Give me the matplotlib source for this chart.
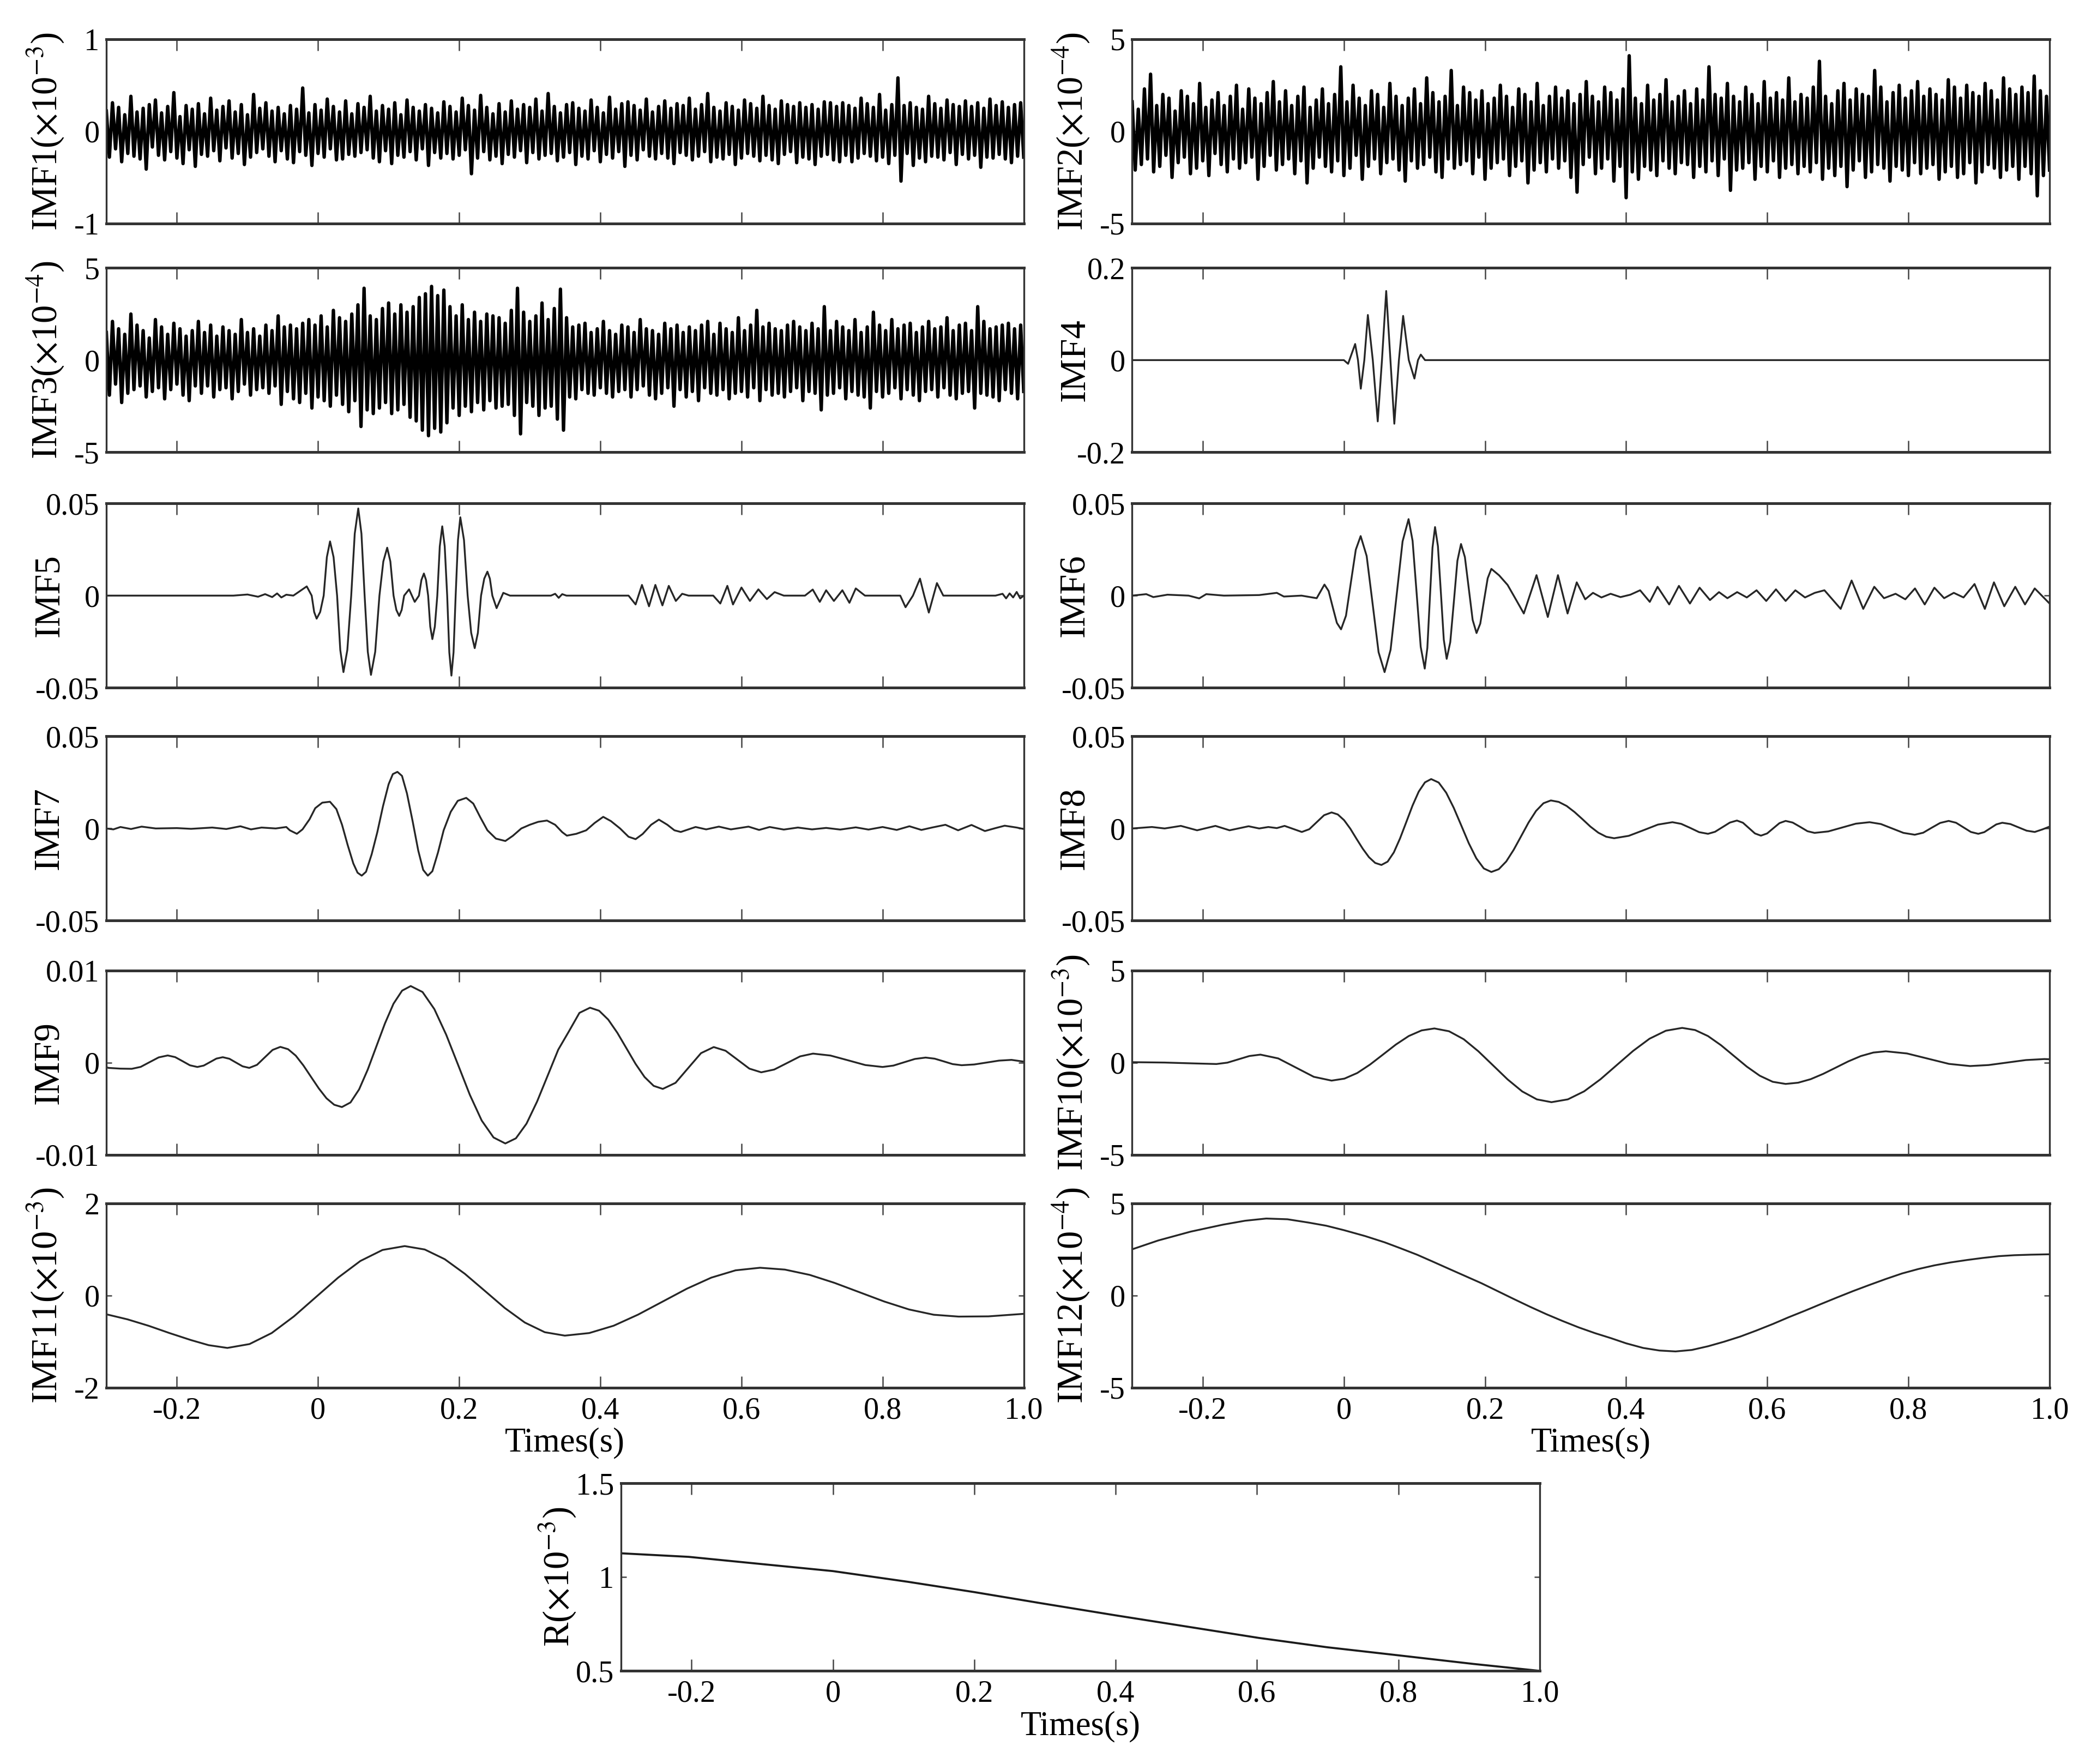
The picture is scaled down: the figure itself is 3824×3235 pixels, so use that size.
import numpy as np
import matplotlib
matplotlib.use('Agg')
import matplotlib.pyplot as plt

plt.rcParams['font.family'] = ['Liberation Serif', 'DejaVu Serif']
plt.rcParams['mathtext.fontset'] = 'stix'

# ---- data ----
xticks = [-0.2, 0, 0.2, 0.4, 0.6, 0.8, 1.0]
xtick_labels = ['-0.2', '0', '0.2', '0.4', '0.6', '0.8', '1.0']

# noisy modes, evenly sampled over -0.3..1.0 (units as in the y labels)
imf1 = [0.22,-0.28,0.31,-0.19,0.26,-0.33,0.18,-0.24,0.38,-0.27,
        0.21,-0.30,0.25,-0.41,0.29,-0.17,0.34,-0.26,0.20,-0.31,
        0.27,-0.22,0.42,-0.29,0.16,-0.35,0.28,-0.20,0.24,-0.38,
        0.30,-0.25,0.19,-0.27,0.36,-0.21,0.23,-0.32,0.27,-0.18,
        0.33,-0.29,0.21,-0.24,0.29,-0.36,0.18,-0.28,0.40,-0.23,
        0.25,-0.19,0.31,-0.27,0.22,-0.33,0.26,-0.21,0.19,-0.30,
        0.28,-0.34,0.24,-0.22,0.47,-0.26,0.20,-0.37,0.29,-0.24,
        0.23,-0.28,0.35,-0.19,0.27,-0.31,0.21,-0.30,0.33,-0.25,
        0.19,-0.27,0.30,-0.23,0.26,-0.20,0.38,-0.29,0.22,-0.33,
        0.28,-0.21,0.24,-0.35,0.31,-0.26,0.18,-0.28,0.34,-0.22,
        0.26,-0.31,0.22,-0.19,0.29,-0.37,0.25,-0.23,0.20,-0.29,
        0.32,-0.24,0.27,-0.30,0.21,-0.26,0.36,-0.20,0.28,-0.46,
        0.23,-0.29,0.39,-0.22,0.26,-0.31,0.19,-0.27,0.30,-0.35,
        0.21,-0.25,0.33,-0.28,0.24,-0.21,0.29,-0.34,0.26,-0.23,
        0.35,-0.30,0.22,-0.26,0.41,-0.24,0.27,-0.32,0.20,-0.28,
        0.29,-0.23,0.31,-0.36,0.25,-0.27,0.22,-0.30,0.34,-0.21,
        0.26,-0.33,0.20,-0.25,0.37,-0.29,0.24,-0.22,0.30,-0.38,
        0.32,-0.26,0.28,-0.31,0.23,-0.20,0.35,-0.27,0.21,-0.30,
        0.27,-0.24,0.33,-0.29,0.25,-0.35,0.30,-0.23,0.28,-0.26,
        0.36,-0.31,0.24,-0.27,0.29,-0.22,0.41,-0.33,0.26,-0.28,
        0.22,-0.30,0.31,-0.25,0.27,-0.36,0.23,-0.29,0.34,-0.24,
        0.30,-0.27,0.25,-0.32,0.38,-0.26,0.28,-0.31,0.24,-0.35,
        0.33,-0.25,0.29,-0.22,0.27,-0.34,0.31,-0.28,0.26,-0.30,
        0.29,-0.36,0.24,-0.27,0.32,-0.25,0.31,-0.31,0.27,-0.33,
        0.31,-0.26,0.28,-0.33,0.25,-0.29,0.36,-0.24,0.30,-0.27,
        0.26,-0.32,0.40,-0.28,0.23,-0.35,0.29,-0.26,0.58,-0.54,
        0.28,-0.24,0.31,-0.37,0.26,-0.29,0.24,-0.33,0.38,-0.27,
        0.30,-0.28,0.25,-0.31,0.34,-0.23,0.29,-0.36,0.27,-0.25,
        0.33,-0.30,0.27,-0.26,0.31,-0.39,0.25,-0.28,0.35,-0.29,
        0.28,-0.25,0.32,-0.30,0.26,-0.34,0.29,-0.27,0.31,-0.28]

imf2 = [1.6,-2.1,1.2,-1.8,2.3,-1.5,3.1,-2.2,1.4,-1.9,
        2.0,-1.3,1.8,-2.5,1.1,-1.7,2.2,-1.4,1.9,-2.3,
        1.5,-2.0,2.6,-1.6,1.3,-2.4,1.7,-1.2,2.1,-1.8,
        1.4,-2.2,1.9,-1.5,2.5,-2.0,1.2,-1.7,2.3,-1.4,
        1.8,-2.6,1.5,-1.9,2.1,-1.3,2.7,-2.1,1.6,-1.8,
        2.2,-1.5,1.4,-2.3,1.9,-1.6,2.4,-2.8,1.3,-2.0,
        1.7,-1.4,2.3,-1.9,1.5,-2.2,2.0,-1.6,3.5,-2.4,
        1.6,-2.0,2.5,-1.3,1.8,-2.6,1.4,-1.9,2.2,-1.5,
        2.0,-2.3,1.3,-1.7,2.6,-1.5,1.9,-2.1,1.4,-2.7,
        1.8,-1.6,2.3,-2.0,1.5,-1.8,2.9,-1.4,2.1,-2.2,
        1.6,-2.5,1.9,-1.5,3.3,-2.0,1.4,-1.8,2.4,-1.6,
        2.1,-2.3,1.7,-1.4,2.2,-2.6,1.5,-2.0,1.8,-1.7,
        2.5,-1.5,1.9,-2.4,1.3,-1.9,2.3,-1.6,2.0,-2.8,
        1.6,-2.1,2.6,-1.7,1.4,-2.2,1.9,-1.5,2.4,-2.0,
        1.8,-1.6,2.2,-2.5,1.5,-3.3,2.0,-1.8,2.7,-1.4,
        1.9,-2.3,1.6,-2.0,2.4,-1.5,2.1,-2.7,1.7,-1.9,
        2.3,-3.6,4.1,-2.2,1.8,-2.6,1.5,-1.9,2.5,-2.1,
        1.7,-2.4,2.0,-1.6,2.8,-2.0,1.6,-2.3,1.9,-1.7,
        2.2,-1.8,1.5,-2.5,2.3,-1.9,1.7,-2.2,3.5,-1.6,
        2.0,-2.4,1.8,-1.5,2.6,-3.2,1.9,-2.1,1.6,-2.0,
        2.4,-1.7,2.0,-2.6,1.5,-1.9,2.7,-2.2,1.8,-1.6,
        2.1,-2.5,1.7,-2.0,2.9,-1.8,1.6,-2.3,2.0,-1.9,
        1.8,-2.2,2.4,-1.7,3.8,-2.6,1.9,-2.0,1.5,-2.4,
        2.2,-1.9,2.6,-3.0,1.7,-2.1,2.3,-1.6,2.0,-2.5,
        1.9,-2.2,3.3,-1.8,2.4,-2.0,1.6,-2.7,2.1,-1.9,
        2.5,-2.1,1.8,-2.4,2.2,-1.7,2.7,-2.3,1.9,-2.0,
        2.3,-1.8,2.0,-2.6,1.7,-2.2,2.8,-1.9,2.4,-2.5,
        1.8,-2.3,2.5,-1.7,2.1,-2.8,1.9,-2.2,2.6,-1.8,
        2.2,-2.0,1.7,-2.5,2.9,-2.1,2.3,-1.9,2.0,-2.6,
        2.4,-1.9,2.1,-2.3,3.0,-3.5,2.2,-2.4,1.9,-2.1]

imf3 = [1.5,-1.9,2.1,-1.3,1.7,-2.3,1.4,-1.8,2.5,-1.6,
        1.9,-1.4,1.6,-2.0,1.2,-1.7,2.2,-1.5,1.8,-2.1,
        1.4,-1.6,2.0,-1.3,1.7,-1.9,1.3,-2.2,1.6,-1.4,
        2.1,-1.8,1.5,-1.4,1.9,-2.0,1.3,-1.6,1.8,-1.5,
        1.6,-2.1,1.4,-1.7,2.2,-1.3,1.5,-1.9,1.7,-1.6,
        1.3,-1.5,1.9,-1.8,1.6,-1.4,2.4,-2.4,1.8,-1.7,
        1.9,-2.1,1.7,-2.3,2.0,-1.8,2.2,-2.6,1.9,-2.0,
        2.4,-2.2,1.8,-2.5,2.7,-1.9,2.3,-2.4,2.1,-2.8,
        2.5,-2.2,3.0,-3.6,3.9,-2.7,2.4,-2.9,2.2,-2.6,
        2.8,-2.3,3.1,-2.9,2.5,-2.7,3.0,-2.4,2.6,-3.1,
        2.9,-3.3,3.4,-3.8,3.6,-4.1,4.0,-3.7,3.5,-3.9,
        3.8,-3.4,2.9,-2.6,2.4,-3.0,3.0,-2.5,2.2,-2.8,
        2.6,-2.3,2.1,-2.7,2.5,-2.2,2.4,-2.6,2.3,-2.5,
        2.0,-2.4,2.7,-3.0,3.9,-4.0,2.6,-2.3,2.1,-2.5,
        2.4,-3.0,3.1,-2.6,2.2,-2.5,2.8,-3.2,3.85,-3.8,
        2.3,-2.0,1.8,-2.1,1.9,-1.6,2.0,-1.8,1.5,-1.9,
        1.7,-1.5,2.1,-1.8,1.6,-2.0,1.4,-1.7,1.9,-1.6,
        1.8,-2.0,1.5,-1.6,2.2,-1.4,1.7,-1.9,1.6,-2.1,
        1.4,-1.8,2.0,-1.5,1.7,-2.5,1.9,-1.6,1.5,-2.0,
        1.8,-1.7,1.6,-2.2,1.9,-1.5,2.1,-1.8,1.4,-1.9,
        2.0,-1.6,1.7,-2.1,1.5,-1.8,2.3,-1.7,1.6,-2.0,
        1.9,-1.5,2.7,-2.2,1.8,-1.6,2.0,-1.9,1.7,-1.8,
        1.6,-2.0,1.9,-1.7,2.1,-1.5,1.8,-2.2,1.6,-1.7,
        2.0,-1.8,1.7,-2.7,2.9,-1.9,1.6,-1.8,2.1,-1.5,
        1.8,-2.1,1.6,-1.7,2.2,-1.9,1.5,-2.0,1.8,-2.6,
        2.6,-1.7,1.9,-2.0,1.6,-1.8,2.2,-1.5,1.7,-2.1,
        1.9,-1.6,2.0,-1.9,1.5,-2.2,1.8,-1.7,2.1,-1.6,
        1.7,-2.0,1.8,-1.5,2.3,-1.9,1.6,-2.1,1.9,-1.8,
        2.0,-1.7,1.6,-2.6,2.9,-1.8,2.1,-1.9,1.7,-2.0,
        1.8,-2.2,1.9,-1.6,2.0,-1.8,1.7,-2.1,1.9,-1.7]

# smoother modes as (time, value) points
imf4 = [(-0.30,0),(0.000,0),(0.006,-0.008),(0.016,0.035),(0.020,0),(0.024,-0.062),
        (0.029,0),(0.034,0.098),(0.041,0),(0.048,-0.133),(0.054,0),(0.060,0.150),
        (0.066,0),(0.0715,-0.138),(0.078,0),(0.084,0.096),(0.092,0),(0.100,-0.040),
        (0.105,0),(0.109,0.012),(0.115,0),(1.0,0)]

imf5 = [(-0.30,0),(-0.12,0),(-0.10,0.0006),(-0.085,-0.0006),(-0.075,0.0008),(-0.065,-0.0008),
        (-0.058,0.0012),(-0.052,-0.001),(-0.045,0.0005),(-0.035,0),(-0.016,0.005),(-0.009,0),
        (-0.0055,-0.0089),(-0.002,-0.0125),(0.003,-0.0089),(0.008,0),(0.0125,0.0209),
        (0.017,0.0294),(0.022,0.0209),(0.027,0),(0.0315,-0.0295),(0.036,-0.0415),
        (0.0415,-0.0295),(0.047,0),(0.052,0.0336),(0.057,0.0473),(0.0615,0.0336),(0.066,0),
        (0.0705,-0.0305),(0.075,-0.043),(0.081,-0.0305),(0.087,0),(0.0925,0.0185),
        (0.098,0.026),(0.1025,0.0185),(0.107,0),(0.111,-0.0078),(0.115,-0.011),
        (0.1185,-0.0078),(0.122,0),(0.129,0.0034),(0.133,0),(0.137,-0.0034),(0.143,0),
        (0.1465,0.0085),(0.150,0.012),(0.153,0.0085),(0.156,0),(0.159,-0.0168),
        (0.162,-0.0236),(0.1655,-0.0168),(0.169,0),(0.1725,0.0267),(0.176,0.0376),
        (0.1795,0.0267),(0.183,0),(0.186,-0.0308),(0.189,-0.0434),(0.192,-0.0308),(0.195,0),
        (0.1983,0.0302),(0.2016,0.0425),(0.2068,0.0302),(0.212,0),(0.217,-0.0202),
        (0.222,-0.0285),(0.2265,-0.0202),(0.231,0),(0.2355,0.0092),(0.240,0.013),
        (0.2435,0.0092),(0.247,0),(0.253,-0.0068),(0.2625,0.0015),(0.272,0),(0.30,0),
        (0.33,0),(0.336,0.001),(0.341,-0.0012),(0.346,0.0008),(0.352,0),(0.38,0),(0.42,0),
        (0.440,0),(0.450,-0.0048),(0.459,0.0058),(0.469,-0.0058),(0.478,0.0058),
        (0.488,-0.0053),(0.497,0.0053),(0.507,-0.0029),(0.516,0.001),(0.525,0),(0.545,0),
        (0.560,0),(0.570,-0.0043),(0.580,0.0053),(0.588,-0.0048),(0.600,0.0044),
        (0.612,-0.0029),(0.624,0.0034),(0.636,-0.0019),(0.647,0.0019),(0.660,0),(0.680,0),
        (0.690,0),(0.701,0.0033),(0.711,-0.0034),(0.720,0.0029),(0.731,-0.0029),
        (0.743,0.0029),(0.753,-0.0039),(0.762,0.0039),(0.775,0),(0.80,0),(0.825,0),
        (0.8325,-0.0063),(0.843,0),(0.853,0.0092),(0.859,0),(0.8655,-0.0092),(0.877,0.0068),
        (0.886,0),(0.90,0),(0.93,0),(0.96,0),(0.97,0.001),(0.975,-0.0015),(0.98,0.0012),
        (0.985,-0.001),(0.99,0.002),(0.995,-0.0015),(1.0,0)]

imf6 = [(-0.30,0),(-0.28,0.0008),(-0.27,-0.0008),(-0.25,0.0005),(-0.22,0),(-0.205,-0.0015),
        (-0.195,0.0008),(-0.17,0),(-0.12,0.0003),(-0.095,0.0015),(-0.085,-0.0005),(-0.06,0),
        (-0.0385,-0.0014),(-0.0275,0.006),(-0.0216,0.0025),(-0.0158,-0.0062),
        (-0.0099,-0.0148),(-0.004,-0.0183),(0.0030,-0.0109),(0.0099,0.007),(0.0169,0.0249),
        (0.0238,0.0323),(0.0323,0.0215),(0.0408,-0.0046),(0.0492,-0.0307),(0.0577,-0.0415),
        (0.0662,-0.0294),(0.0747,0.0),(0.0832,0.0294),(0.0917,0.0415),(0.0974,0.0297),
        (0.1032,0.0009),(0.1089,-0.0278),(0.1146,-0.0396),(0.1183,-0.0284),(0.1219,-0.0012),
        (0.1256,0.026),(0.1292,0.0372),(0.1333,0.0268),(0.1375,0.0015),(0.1416,-0.0239),
        (0.1457,-0.0343),(0.1508,-0.0252),(0.1559,-0.0032),(0.1609,0.0189),(0.166,0.028),
        (0.1715,0.0209),(0.177,0.0039),(0.1825,-0.0132),(0.188,-0.0203),(0.1933,-0.0152),
        (0.1985,-0.0029),(0.2038,0.0094),(0.209,0.0145),(0.22,0.011),(0.232,0.0058),
        (0.2435,-0.0019),(0.255,-0.0097),(0.273,0.0111),
        (0.289,-0.0116),(0.3034,0.0111),(0.317,-0.0097),(0.330,0.0072),(0.342,-0.002),
        (0.353,0.0015),(0.365,-0.001),(0.378,0.001),(0.392,-0.0008),(0.406,0.0005),
        (0.4198,0.0029),(0.4335,-0.0034),(0.4445,0.0048),(0.461,-0.0048),(0.4748,0.0053),
        (0.4904,-0.0043),(0.5041,0.0043),(0.5188,-0.0024),(0.5316,0.0019),(0.5435,-0.0014),
        (0.5573,0.0019),(0.571,-0.001),(0.5848,0.0029),(0.5985,-0.0029),(0.6123,0.0034),
        (0.626,-0.0029),(0.6398,0.0029),(0.6535,-0.001),(0.6673,0.0015),(0.681,0.0029),
        (0.704,-0.0072),(0.7195,0.0082),(0.736,-0.0072),(0.7516,0.0048),(0.7654,-0.0014),
        (0.7818,0.001),(0.7956,-0.002),(0.8093,0.0039),(0.8231,-0.0048),(0.8368,0.0043),
        (0.8506,-0.0014),(0.8643,0.0015),(0.8781,-0.001),(0.8937,0.0063),(0.9083,-0.0072),
        (0.9212,0.0072),(0.9358,-0.0058),(0.9514,0.0048),(0.9652,-0.0048),(0.979,0.0039),
        (0.999,-0.0039)]

imf7 = [(-0.30,0),(-0.29,-0.0005),(-0.28,0.0008),(-0.265,-0.0003),(-0.25,0.001),(-0.23,0),
        (-0.20,0.0002),(-0.18,-0.0002),(-0.15,0.0005),(-0.13,-0.0003),(-0.11,0.0012),
        (-0.095,-0.0005),(-0.08,0.0005),(-0.06,0),(-0.045,0.0008),(-0.04,-0.001),
        (-0.030,-0.0029),(-0.022,-0.0005),(-0.012,0.005),(-0.004,0.011),(0.006,0.0140),
        (0.0169,0.0145),(0.026,0.0105),(0.034,0.002),(0.042,-0.009),(0.050,-0.019),
        (0.056,-0.0240),(0.0619,-0.0256),(0.068,-0.0235),(0.076,-0.014),(0.084,-0.002),
        (0.092,0.012),(0.100,0.024),(0.106,0.0295),(0.1125,0.0307),(0.119,0.0285),
        (0.126,0.019),(0.134,0.004),(0.142,-0.012),(0.149,-0.0225),(0.1556,-0.0256),
        (0.162,-0.0232),(0.170,-0.013),(0.178,-0.001),(0.188,0.009),(0.198,0.0150),
        (0.210,0.0166),(0.220,0.0135),(0.230,0.006),(0.240,-0.001),(0.252,-0.0055),
        (0.2654,-0.0068),(0.276,-0.004),(0.288,0.000),(0.300,0.002),(0.312,0.0036),
        (0.3244,0.0043),(0.336,0.002),(0.346,-0.002),(0.3526,-0.0039),(0.366,-0.0029),
        (0.380,-0.001),(0.392,0.003),(0.4041,0.0063),(0.415,0.004),(0.428,0.0),
        (0.440,-0.0045),(0.450,-0.0058),(0.460,-0.003),(0.472,0.002),(0.483,0.0048),
        (0.495,0.002),(0.505,-0.001),(0.514,-0.0019),(0.535,0.0008),(0.55,-0.0005),
        (0.568,0.001),(0.585,-0.0005),(0.61,0.001),(0.625,-0.0008),(0.64,0.0008),
        (0.66,-0.0006),(0.68,0.0005),(0.70,-0.0005),(0.72,0.0003),(0.74,-0.0006),
        (0.762,0.0006),(0.78,-0.0006),(0.80,0.0008),(0.82,-0.0008),(0.838,0.0012),
        (0.855,-0.0008),(0.87,0.0005),(0.889,0.0020),(0.907,-0.001),(0.926,0.0019),
        (0.945,-0.0014),(0.96,0.0002),(0.973,0.0015),(0.99,0.0005),(1.0,-0.0003)]

imf8 = [(-0.30,0.0),(-0.272,0.0008),(-0.254,0.0),(-0.231,0.0014),(-0.208,-0.001),
        (-0.182,0.0014),(-0.162,-0.001),(-0.135,0.0012),(-0.12,0.0),(-0.107,0.0008),
        (-0.095,0.0002),(-0.084,0.0014),(-0.0596,-0.0019),(-0.049,-0.0004),(-0.0385,0.0034),
        (-0.028,0.0072),(-0.0174,0.0087),(-0.0086,0.0076),(0.0003,0.0045),(0.0091,-0.0001),
        (0.0179,-0.0056),(0.0268,-0.0110),(0.0356,-0.0156),(0.0444,-0.0187),(0.0532,-0.0198),
        (0.0620,-0.0180),(0.0708,-0.0130),(0.0796,-0.0054),(0.0885,0.0035),(0.0973,0.0124),
        (0.1061,0.0200),(0.1149,0.0250),(0.1237,0.0268),(0.1344,0.0249),(0.1450,0.0194),
        (0.1557,0.0112),(0.1664,0.0016),(0.1770,-0.0080),(0.1877,-0.0162),(0.1983,-0.0217),
        (0.209,-0.0236),(0.2195,-0.0221),(0.2301,-0.0179),(0.2406,-0.0116),(0.2512,-0.0042),
        (0.2617,0.0032),(0.2723,0.0095),(0.2829,0.0137),(0.2933,0.0152),(0.3045,0.0144),
        (0.3157,0.0122),(0.3269,0.0089),(0.3382,0.0050),(0.3494,0.0010),(0.3606,-0.0023),
        (0.3718,-0.0045),(0.383,-0.0053),(0.4037,-0.0040),(0.4243,-0.0010),(0.445,0.0021),
        (0.4656,0.0034),(0.478,0.0025),(0.4908,0.0003),(0.5034,-0.002),(0.516,-0.0029),
        (0.526,-0.0018),(0.5365,0.0007),(0.547,0.0032),(0.557,0.0043),(0.5655,0.0031),
        (0.574,0.0002),(0.5825,-0.0027),(0.591,-0.0039),(0.5998,-0.0027),(0.6085,0.0001),
        (0.6173,0.0029),(0.626,0.0041),(0.636,0.0032),(0.6465,0.0009),(0.657,-0.0015),
        (0.667,-0.0024),(0.6865,-0.0016),(0.706,0.0005),(0.7255,0.0026),(0.745,0.0034),
        (0.761,0.0024),(0.777,0.0),(0.793,-0.0024),(0.809,-0.0034),(0.821,-0.0023),
        (0.833,0.0004),(0.845,0.0030),(0.857,0.0041),(0.8675,0.0031),(0.878,0.0006),
        (0.8885,-0.0019),(0.899,-0.0029),(0.9075,-0.002),(0.916,0.0001),(0.9245,0.0022),
        (0.933,0.0031),(0.9445,0.0024),(0.956,0.0006),(0.9675,-0.0012),(0.979,-0.0019),
        (0.99,-0.0005),(1.0,0.001)]

imf9 = [(-0.30,-0.0005),(-0.297,-0.00058),(-0.28,-0.00066),(-0.264,-0.00068),
        (-0.2513,-0.00047),(-0.2385,0.00005),(-0.2258,0.00056),(-0.213,0.00077),
        (-0.2025,0.00059),(-0.192,0.00015),(-0.1815,-0.0003),(-0.171,-0.00048),
        (-0.162,-0.00033),(-0.153,0.00005),(-0.144,0.00043),(-0.135,0.00058),
        (-0.1256,0.00041),(-0.1163,0.0),(-0.1069,-0.00041),(-0.0975,-0.00058),
        (-0.0865,-0.00025),(-0.0755,0.00056),(-0.0644,0.00137),(-0.0534,0.0017),
        (-0.0425,0.00145),(-0.0316,0.00075),(-0.0207,-0.00032),(-0.0098,-0.00157),
        (0.0011,-0.00281),(0.012,-0.00388),(0.0229,-0.00458),(0.0338,-0.00483),
        (0.0460,-0.00433),(0.0582,-0.00291),(0.0704,-0.00077),(0.0826,0.00174),
        (0.0948,0.00424),(0.1069,0.00638),(0.1191,0.0078),(0.1313,0.0083),
        (0.1481,0.00765),(0.1648,0.0058),(0.1816,0.00302),(0.1984,-0.00024),
        (0.2151,-0.0035),(0.2319,-0.00629),(0.2487,-0.00813),(0.2654,-0.00878),
        (0.2804,-0.00822),(0.2954,-0.00663),(0.3104,-0.00423),(0.3254,-0.00142),
        (0.3404,0.0014),(0.3554,0.00337),(0.3704,0.00539),(0.3854,0.00595),
        (0.3983,0.00562),(0.4112,0.00466),(0.4241,0.00323),(0.437,0.00155),
        (0.4499,-0.00014),(0.4627,-0.00157),(0.4756,-0.00253),(0.4885,-0.00286),
        (0.5066,-0.0022),(0.5246,-0.00059),(0.5427,0.00102),(0.5607,0.00168),
        (0.5775,0.00128),(0.5944,0.00031),(0.6112,-0.00066),(0.628,-0.00106),
        (0.6464,-0.00076),(0.6647,-0.00005),(0.6831,0.00067),(0.7014,0.00097),
        (0.7261,0.00076),(0.7507,0.00025),(0.7754,-0.00027),(0.80,-0.00048),
        (0.8153,-0.00033),(0.8305,0.00003),(0.8458,0.00039),(0.861,0.00054),
        (0.8738,0.00042),(0.8865,0.00013),(0.8993,-0.00017),(0.912,-0.00029),
        (0.9297,-0.00021),(0.9474,0.0),(0.965,0.00021),(0.9827,0.00029),(1.0,0.0001)]

imf10 = [(-0.30,0.02),(-0.254,0.0),(-0.21,-0.05),(-0.1806,-0.08),(-0.165,-0.005),
         (-0.1494,0.175),(-0.1338,0.355),(-0.1182,0.43),(-0.093,0.224),(-0.0678,-0.275),
         (-0.0426,-0.774),(-0.0174,-0.98),(0.0008,-0.872),(0.019,-0.567),(0.0372,-0.106),
         (0.0555,0.435),(0.0737,0.976),(0.0919,1.437),(0.1101,1.742),(0.1283,1.85),
         (0.149,1.698),(0.1698,1.266),(0.1905,0.614),(0.2113,-0.15),(0.232,-0.914),
         (0.2527,-1.566),(0.2735,-1.998),(0.2942,-2.15),(0.3174,-1.997),(0.3405,-1.562),
         (0.3637,-0.905),(0.3868,-0.135),(0.41,0.635),(0.4331,1.292),(0.4563,1.727),
         (0.4794,1.88),(0.4977,1.764),(0.516,1.436),(0.5344,0.941),(0.5527,0.36),
         (0.571,-0.221),(0.5894,-0.716),(0.6077,-1.044),(0.626,-1.16),(0.6438,-1.093),
         (0.6615,-0.902),(0.6793,-0.613),(0.6971,-0.275),(0.7148,0.063),(0.7326,0.352),
         (0.7504,0.543),(0.7681,0.61),(0.7979,0.493),(0.8277,0.21),(0.8575,-0.073),
         (0.8873,-0.19),(0.9137,-0.135),(0.94,0.0),(0.9664,0.135),(0.9927,0.19),(1.0,0.18)]

imf11 = [(-0.30,-0.41),(-0.27,-0.52),(-0.24,-0.66),(-0.21,-0.82),(-0.18,-0.97),
         (-0.155,-1.08),(-0.1285,-1.14),(-0.0971,-1.056),(-0.0657,-0.817),(-0.0343,-0.457),
         (-0.0029,-0.035),(0.0286,0.387),(0.0600,0.747),(0.0914,0.986),(0.1228,1.07),
         (0.1512,0.996),(0.1795,0.786),(0.2079,0.470),(0.2363,0.099),(0.2646,-0.273),
         (0.2930,-0.589),(0.3213,-0.799),(0.3497,-0.873),(0.3843,-0.817),(0.4189,-0.658),
         (0.4534,-0.418),(0.4880,-0.137),(0.5226,0.145),(0.5572,0.385),(0.5917,0.544),
         (0.6263,0.60),(0.6615,0.560),(0.6967,0.445),(0.7318,0.272),(0.7670,0.070),
         (0.8022,-0.132),(0.8374,-0.305),(0.8725,-0.420),(0.9077,-0.46),(0.95,-0.455),
         (1.0,-0.40)]

imf12 = [(-0.30,2.5),(-0.263,2.98),(-0.217,3.46),(-0.171,3.84),(-0.14,4.05),(-0.11,4.17),
         (-0.08,4.13),(-0.05,3.95),(-0.025,3.78),(0.0,3.54),(0.03,3.22),(0.0577,2.88),
         (0.08,2.56),(0.1036,2.21),(0.125,1.85),(0.149,1.44),(0.172,1.05),(0.195,0.66),
         (0.218,0.23),(0.241,-0.20),(0.264,-0.62),(0.287,-1.02),(0.31,-1.39),(0.333,-1.74),
         (0.356,-2.05),(0.3785,-2.32),(0.40,-2.6),(0.424,-2.85),(0.447,-2.99),(0.470,-3.04),
         (0.493,-2.96),(0.516,-2.76),(0.539,-2.51),(0.562,-2.23),(0.585,-1.90),(0.608,-1.55),
         (0.63,-1.19),(0.6535,-0.83),(0.676,-0.47),(0.699,-0.11),(0.722,0.24),(0.745,0.57),
         (0.768,0.89),(0.791,1.19),(0.814,1.43),(0.837,1.63),(0.86,1.79),(0.883,1.92),
         (0.905,2.03),(0.9285,2.13),(0.95,2.18),(0.974,2.21),(1.0,2.23)]

residual = [(-0.30,1.127),(-0.204,1.108),(-0.129,1.08),(0.0,1.032),(0.106,0.975),
            (0.2,0.92),(0.294,0.861),(0.4,0.796),(0.501,0.736),(0.602,0.676),
            (0.699,0.626),(0.802,0.582),(0.906,0.537),(1.0,0.50)]

# (label, data, ylim, yticks, ytick labels)
panels = [
    ('IMF1(' + r'$\times$' + '10' + r'$^{-3}$' + ')', imf1, (-1, 1), [-1, 0, 1], ['-1', '0', '1']),
    ('IMF2(' + r'$\times$' + '10' + r'$^{-4}$' + ')', imf2, (-5, 5), [-5, 0, 5], ['-5', '0', '5']),
    ('IMF3(' + r'$\times$' + '10' + r'$^{-4}$' + ')', imf3, (-5, 5), [-5, 0, 5], ['-5', '0', '5']),
    ('IMF4', imf4, (-0.2, 0.2), [-0.2, 0, 0.2], ['-0.2', '0', '0.2']),
    ('IMF5', imf5, (-0.05, 0.05), [-0.05, 0, 0.05], ['-0.05', '0', '0.05']),
    ('IMF6', imf6, (-0.05, 0.05), [-0.05, 0, 0.05], ['-0.05', '0', '0.05']),
    ('IMF7', imf7, (-0.05, 0.05), [-0.05, 0, 0.05], ['-0.05', '0', '0.05']),
    ('IMF8', imf8, (-0.05, 0.05), [-0.05, 0, 0.05], ['-0.05', '0', '0.05']),
    ('IMF9', imf9, (-0.01, 0.01), [-0.01, 0, 0.01], ['-0.01', '0', '0.01']),
    ('IMF10(' + r'$\times$' + '10' + r'$^{-3}$' + ')', imf10, (-5, 5), [-5, 0, 5], ['-5', '0', '5']),
    ('IMF11(' + r'$\times$' + '10' + r'$^{-3}$' + ')', imf11, (-2, 2), [-2, 0, 2], ['-2', '0', '2']),
    ('IMF12(' + r'$\times$' + '10' + r'$^{-4}$' + ')', imf12, (-5, 5), [-5, 0, 5], ['-5', '0', '5']),
    ('R(' + r'$\times$' + '10' + r'$^{-3}$' + ')', residual, (0.5, 1.5), [0.5, 1, 1.5], ['0.5', '1', '1.5']),
]

fig = plt.figure(figsize=(3824 / 300, 3235 / 300), dpi=300)

col_left = [0.051, 0.543]
row_bottom = [0.8733, 0.7436, 0.6101, 0.4781, 0.3454, 0.2134]
aw, ah = 0.440, 0.1045


def style(ax, p, show_x):
    ax.set_xlim(-0.3, 1.0)
    ax.set_ylim(*p[2])
    ax.set_xticks(xticks)
    if show_x:
        ax.set_xticklabels(xtick_labels)
        ax.set_xlabel('Times(s)', fontsize=15, labelpad=1)
    else:
        ax.set_xticklabels([])
    ax.set_yticks(p[3])
    ax.set_yticklabels(p[4])
    ax.tick_params(axis='x', direction='in', top=True, bottom=True, length=5,
                   width=0.6, labelsize=13.5, pad=4, color='#444444')
    ax.tick_params(axis='y', direction='in', left=True, right=True, length=2.5,
                   width=0.6, labelsize=13.5, pad=3, color='#444444')
    for side, s in ax.spines.items():
        s.set_color('#333333')
        s.set_linewidth(1.2 if side in ('top', 'bottom') else 0.8)
    ax.set_ylabel(p[0], fontsize=16)


for i, p in enumerate(panels[:12]):
    r, c = divmod(i, 2)
    ax = fig.add_axes([col_left[c], row_bottom[r], aw, ah])
    data = p[1]
    if i < 3:
        t = np.linspace(-0.3, 1.0, len(data))
        ax.plot(t, data, color='black', lw=1.5, solid_joinstyle='round')
    else:
        t, v = zip(*data)
        ax.plot(t, v, color='#262626', lw=0.8, solid_joinstyle='round')
    style(ax, p, r == 5)
    ax.yaxis.set_label_coords(-0.044, 0.5)

p = panels[12]
ax = fig.add_axes([0.2978, 0.0528, 0.4407, 0.1063])
t, v = zip(*p[1])
ax.plot(t, v, color='#1a1a1a', lw=0.9)
style(ax, p, True)
ax.yaxis.set_label_coords(-0.047, 0.5)

fig.savefig('out.png', dpi=300, facecolor='white')
